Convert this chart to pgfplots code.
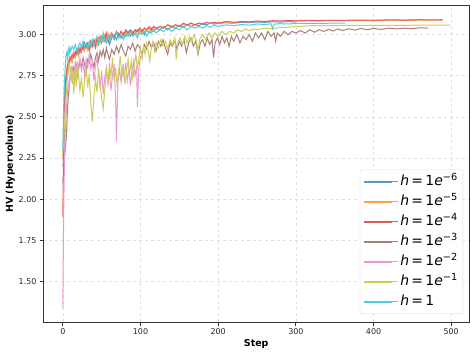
\documentclass[border=0pt]{standalone}
\usepackage{fontspec}
\setmainfont{DejaVu Sans}
\usepackage{pgfplots}
\pgfplotsset{compat=1.18}

\definecolor{tabblue}{HTML}{1F77B4}
\definecolor{taborange}{HTML}{FF7F0E}
\definecolor{tabred}{HTML}{D62728}
\definecolor{tabbrown}{HTML}{8C564B}
\definecolor{tabpink}{HTML}{E377C2}
\definecolor{tabolive}{HTML}{BCBD22}
\definecolor{tabcyan}{HTML}{17BECF}

\newcommand{\hlab}[1]{\textit{h}\,=\,1\textit{e}\textsuperscript{−#1}}

\begin{document}
\begin{tikzpicture}
\begin{axis}[
    scale only axis,
    width=425.5bp, height=316.5bp,
    xmin=-24.9, xmax=522.9,
    ymin=1.2525, ymax=3.1775,
    xtick={0,100,...,500},
    ytick={1.5,1.75,...,3.0},
    yticklabel style={/pgf/number format/.cd, fixed, fixed zerofill, precision=2},
    /pgf/number format/assume math mode=true,
    tick label style={font=\fontsize{8}{9}\selectfont, black!85},
    xlabel={\bfseries Step},
    ylabel={\bfseries HV (Hypervolume)},
    label style={font=\fontsize{9.5}{11}\selectfont},
    ylabel style={yshift=-3bp},
    xlabel style={yshift=2bp},
    xtick pos=left, ytick pos=left,
    tick align=outside,
    major tick length=3.5bp,
    every tick/.style={black!80, line width=0.8bp},
    axis line style={black!80, line width=0.8bp},
    grid=major,
    major grid style={dashed, gray!25, line width=0.6bp},
    every axis plot/.append style={line width=1bp},
    legend image code/.code={\draw[#1, line width=1.6bp] (0bp,0bp) -- (28bp,0bp); \path (0bp,0bp) -- (34bp,0bp);},
    legend cell align=left,
    legend style={
        at={(1,0)}, anchor=south east, xshift=-6bp, yshift=8bp,
        font=\fontsize{14}{16}\selectfont,
        draw=gray!30, rounded corners=2bp, fill=white,
        row sep=2bp, inner xsep=3bp, inner ysep=3bp,
        nodes={inner sep=2bp, text height=10.5bp, text depth=3.5bp},
    },
]

% h = 1e-6
\addplot[draw=tabblue!75!white] coordinates {
 (0,2.10) (1,2.15) (2,2.40) (3,2.60) (4,2.70) (5,2.76) (6,2.80) (7,2.78) (8,2.83) (10,2.86)
 (12,2.84) (14,2.89) (16,2.87) (18,2.91) (20,2.88) (22,2.92) (24,2.90) (26,2.94) (28,2.91) (30,2.93)
 (32,2.95) (34,2.92) (36,2.96) (38,2.93) (40,2.95) (42,2.92) (44,2.97) (46,2.94) (48,2.98) (50,2.95)
 (52,2.99) (54,2.96) (56,3.00) (58,2.97) (60,2.94) (63,2.98) (66,3.00) (69,2.97) (72,3.01) (75,2.98)
 (78,3.01) (81,2.99) (84,3.02) (87,2.99) (90,3.02) (93,3.00) (96,3.03) (99,3.01) (102,3.03) (105,3.00)
 (108,3.03) (111,3.01) (114,3.04) (117,3.02) (120,3.04) (125,3.03) (130,3.05) (135,3.03) (140,3.05) (145,3.04)
 (150,3.055) (155,3.045) (160,3.06) (165,3.05) (170,3.06) (175,3.055) (180,3.065) (185,3.06) (190,3.07) (195,3.065)
 (200,3.07) (210,3.072) (220,3.07) (230,3.075) (240,3.073) (250,3.077) (260,3.075) (270,3.078) (280,3.077) (290,3.079)
 (300,3.078)
};
\addlegendentry{\hlab{6}}

% h = 1e-5
\addplot[draw=taborange!75!white] coordinates {
 (0,2.25) (1,2.45) (2,2.60) (3,2.70) (4,2.75) (5,2.79) (6,2.77) (7,2.82) (8,2.80) (9,2.84)
 (10,2.86) (12,2.83) (14,2.88) (16,2.86) (18,2.90) (20,2.87) (22,2.91) (24,2.89) (26,2.93) (28,2.90)
 (30,2.94) (32,2.91) (34,2.95) (36,2.92) (38,2.96) (40,2.94) (42,2.97) (44,2.93) (46,2.98) (48,2.95)
 (50,2.99) (52,2.96) (54,3.00) (56,2.97) (58,3.01) (60,2.98) (63,3.00) (66,2.97) (69,3.01) (72,2.99)
 (75,3.02) (78,2.99) (81,3.02) (84,3.00) (87,3.03) (90,3.01) (93,3.03) (96,3.00) (99,3.03) (102,3.01)
 (105,3.04) (108,3.02) (111,3.04) (114,3.02) (117,3.05) (120,3.03) (125,3.05) (130,3.04) (135,3.06) (140,3.04)
 (145,3.06) (150,3.05) (155,3.065) (160,3.055) (165,3.07) (170,3.06) (175,3.07) (180,3.065) (185,3.072) (190,3.068)
 (195,3.075) (200,3.07) (210,3.077) (220,3.074) (230,3.079) (240,3.077) (250,3.081) (260,3.079) (270,3.083) (280,3.081)
 (290,3.084) (300,3.083) (315,3.085) (330,3.084) (345,3.086) (360,3.085) (380,3.087) (400,3.086) (420,3.088) (440,3.087)
 (460,3.088) (475,3.088) (489,3.089)
};
\addlegendentry{\hlab{5}}

% h = 1e-4
\addplot[draw=tabred!75!white] coordinates {
 (0,1.89) (1,2.35) (2,2.58) (3,2.68) (4,2.74) (5,2.78) (6,2.81) (7,2.84) (8,2.82) (9,2.86)
 (10,2.85) (12,2.88) (14,2.86) (16,2.90) (18,2.88) (20,2.92) (22,2.89) (24,2.93) (26,2.91) (28,2.95)
 (30,2.92) (32,2.94) (34,2.90) (36,2.96) (38,2.93) (40,2.97) (42,2.94) (44,2.98) (46,2.95) (48,2.99)
 (50,2.96) (52,3.00) (54,2.97) (56,3.01) (58,2.96) (60,2.99) (63,3.01) (66,2.98) (69,3.02) (72,2.99)
 (75,3.02) (78,3.00) (81,3.03) (84,3.01) (87,3.03) (90,3.00) (93,3.03) (96,3.02) (99,3.04) (102,3.02)
 (105,3.04) (108,3.03) (111,3.05) (114,3.03) (117,3.05) (120,3.04) (125,3.05) (130,3.04) (135,3.06) (140,3.05)
 (145,3.06) (150,3.05) (155,3.07) (160,3.06) (165,3.07) (170,3.06) (175,3.07) (180,3.065) (185,3.075) (190,3.07)
 (195,3.075) (200,3.07) (210,3.08) (220,3.075) (230,3.08) (240,3.078) (250,3.083) (260,3.08) (270,3.085) (280,3.083)
 (290,3.086) (300,3.084) (315,3.087) (330,3.086) (345,3.088) (360,3.087) (380,3.089) (400,3.088) (420,3.09) (440,3.089)
 (460,3.091) (475,3.09) (489,3.091)
};
\addlegendentry{\hlab{4}}

% h = 1e-3
\addplot[draw=tabbrown!75!white] coordinates {
 (0,2.20) (2,2.25) (4,2.35) (5,2.42) (6,2.55) (7,2.62) (8,2.68) (9,2.72) (10,2.76) (12,2.74)
 (14,2.80) (16,2.77) (18,2.82) (20,2.78) (22,2.84) (24,2.80) (26,2.86) (28,2.82) (30,2.79) (32,2.85)
 (34,2.83) (36,2.88) (38,2.84) (40,2.80) (42,2.86) (44,2.89) (46,2.84) (48,2.90) (50,2.87) (52,2.91)
 (54,2.86) (56,2.92) (58,2.88) (60,2.85) (63,2.91) (66,2.88) (69,2.93) (72,2.89) (75,2.94) (78,2.90)
 (81,2.87) (84,2.93) (87,2.91) (90,2.95) (93,2.90) (96,2.94) (99,2.92) (102,2.88) (105,2.94) (108,2.91)
 (111,2.96) (114,2.92) (117,2.95) (120,2.90) (123,2.96) (126,2.93) (129,2.97) (132,2.92) (135,2.88) (138,2.95)
 (141,2.93) (144,2.97) (147,2.91) (150,2.96) (153,2.93) (156,2.97) (159,2.89) (162,2.95) (165,2.98) (168,2.93)
 (171,2.96) (174,2.88) (177,2.95) (180,2.97) (183,2.93) (186,2.98) (189,2.94) (192,2.97) (194,2.86) (196,2.95)
 (199,2.98) (202,2.94) (205,2.99) (208,2.95) (211,2.98) (214,2.93) (217,2.99) (220,2.96) (224,3.00) (228,2.95)
 (232,2.99) (236,2.97) (240,3.00) (244,2.96) (248,3.01) (252,2.98) (256,3.01) (260,2.97) (264,3.02) (268,2.99)
 (272,3.01) (274,2.96) (276,3.01) (280,2.99) (285,3.02) (290,3.00) (295,3.02) (300,3.01) (306,3.025) (312,3.01)
 (318,3.03) (324,3.015) (330,3.03) (336,3.02) (342,3.033) (348,3.022) (354,3.035) (360,3.025) (368,3.036) (376,3.028)
 (384,3.038) (392,3.03) (400,3.038) (410,3.032) (420,3.04) (430,3.035) (440,3.04) (450,3.036) (460,3.042) (470,3.04)
};
\addlegendentry{\hlab{3}}

% h = 1e-2
\addplot[draw=tabpink!75!white] coordinates {
 (0,1.34) (1,1.90) (2,2.20) (3,2.40) (4,2.49) (5,2.58) (6,2.65) (7,2.70) (8,2.66) (9,2.74)
 (10,2.78) (11,2.72) (12,2.81) (13,2.76) (14,2.70) (15,2.79) (16,2.84) (17,2.77) (18,2.82) (19,2.73)
 (20,2.80) (22,2.86) (24,2.78) (26,2.83) (28,2.75) (30,2.85) (32,2.80) (34,2.88) (36,2.79) (38,2.84)
 (40,2.72) (42,2.81) (44,2.86) (46,2.76) (48,2.68) (50,2.78) (52,2.64) (54,2.74) (56,2.80) (58,2.70)
 (60,2.77) (62,2.66) (64,2.76) (66,2.82) (68,2.60) (69,2.35) (70,2.55) (71,2.72) (73,2.79) (75,2.71)
 (77,2.80) (79,2.74) (81,2.83) (83,2.72) (85,2.79) (87,2.69) (89,2.78) (91,2.84) (93,2.75) (95,2.80)
 (96,2.56) (97,2.70) (98,2.80) (100,2.87)
};
\addlegendentry{\hlab{2}}

% h = 1e-1
\addplot[draw=tabolive!75!white] coordinates {
 (0,2.28) (1,2.35) (2,2.45) (3,2.55) (4,2.62) (5,2.68) (6,2.74) (7,2.79) (8,2.83) (9,2.80)
 (10,2.75) (11,2.81) (12,2.70) (13,2.78) (14,2.64) (15,2.72) (16,2.80) (17,2.68) (18,2.75) (19,2.84)
 (20,2.77) (22,2.66) (24,2.74) (26,2.62) (28,2.71) (30,2.80) (32,2.68) (34,2.76) (36,2.58) (38,2.47)
 (40,2.62) (42,2.73) (44,2.65) (46,2.79) (48,2.70) (50,2.61) (52,2.55) (54,2.66) (56,2.78) (58,2.71)
 (60,2.83) (62,2.75) (64,2.86) (66,2.72) (68,2.80) (70,2.68) (72,2.79) (74,2.87) (76,2.74) (78,2.82)
 (80,2.70) (82,2.78) (84,2.85) (86,2.76) (88,2.84) (90,2.73) (92,2.81) (94,2.88) (96,2.80) (98,2.86)
 (100,2.92) (102,2.85) (104,2.93) (106,2.88) (108,2.95) (110,2.90) (112,2.84) (114,2.93) (116,2.96) (118,2.90)
 (120,2.95) (123,2.92) (126,2.97) (129,2.93) (132,2.96) (135,2.91) (138,2.97) (141,2.94) (144,2.98) (146,2.85)
 (148,2.95) (151,2.98) (154,2.94) (157,2.99) (160,2.95) (163,2.99) (166,2.96) (169,3.00) (172,2.96) (174,2.89)
 (176,2.97) (180,3.00) (184,2.97) (188,3.01) (192,2.98) (196,3.01) (200,2.99) (205,3.02) (210,3.00) (215,3.02)
 (220,3.01) (225,3.03) (230,3.02) (235,3.035) (240,3.025) (245,3.035) (250,3.03) (260,3.04) (270,3.035) (280,3.045)
 (290,3.045) (300,3.05) (310,3.052) (320,3.055) (340,3.055) (360,3.056) (380,3.056) (400,3.057) (420,3.057) (440,3.057)
 (460,3.058) (480,3.058) (499,3.058)
};
\addlegendentry{\hlab{1}}

% h = 1
\addplot[draw=tabcyan!75!white] coordinates {
 (0,2.30) (1,2.55) (2,2.70) (3,2.80) (4,2.87) (5,2.89) (6,2.86) (7,2.91) (8,2.88) (9,2.92)
 (10,2.90) (12,2.93) (14,2.91) (16,2.94) (18,2.90) (20,2.93) (22,2.95) (24,2.92) (26,2.96) (28,2.93)
 (30,2.95) (32,2.91) (34,2.96) (36,2.94) (38,2.97) (40,2.93) (42,2.96) (44,2.99) (46,2.95) (48,2.98)
 (50,2.96) (52,3.01) (54,2.97) (56,2.95) (58,2.99) (60,2.96) (63,3.00) (66,2.97) (69,3.01) (72,2.98)
 (75,3.00) (78,2.97) (81,3.01) (84,2.99) (87,3.02) (90,2.99) (93,3.01) (96,2.98) (99,3.02) (102,3.00)
 (105,3.02) (108,2.99) (111,3.02) (114,3.01) (117,3.03) (120,3.01) (125,3.03) (130,3.02) (135,3.04) (140,3.02)
 (145,3.04) (150,3.03) (155,3.05) (160,3.03) (165,3.05) (170,3.04) (175,3.05) (180,3.04) (185,3.055) (190,3.045)
 (195,3.06) (200,3.05) (210,3.06) (220,3.055) (230,3.062) (240,3.058) (250,3.065) (260,3.062) (268,3.066) (270,3.035)
 (272,3.064) (280,3.067) (290,3.065) (300,3.068) (315,3.069) (330,3.068) (345,3.07) (363,3.071)
};
\addlegendentry{\textit{h}\,=\,1}

\end{axis}
\pgfresetboundingbox
\path (current axis.south west) ++(-43.5bp,-33bp) rectangle ++(476bp,355bp);
\end{tikzpicture}
\end{document}
